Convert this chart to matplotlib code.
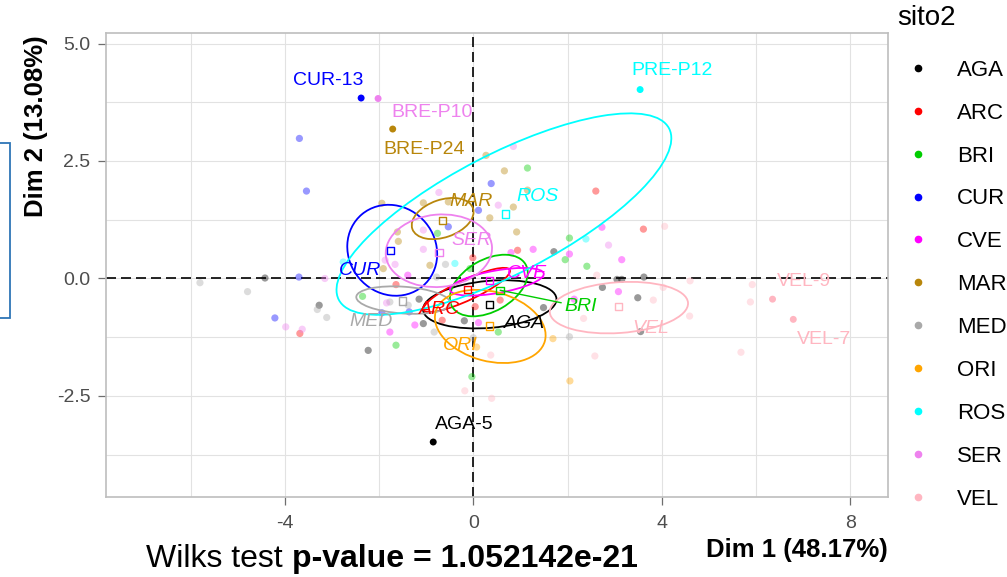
import matplotlib
matplotlib.use("Agg")
import matplotlib.pyplot as plt
from matplotlib.patches import Ellipse, Rectangle
from matplotlib.lines import Line2D
import numpy as np

plt.rcParams["font.family"] = ["Liberation Sans", "DejaVu Sans"]

# ── Groups (sito2) ─────────────────────────────────────────────────────────────
GROUPS = ["AGA", "ARC", "BRI", "CUR", "CVE", "MAR", "MED", "ORI", "ROS", "SER", "VEL"]
COLORS = ["#000000", "#FF0000", "#00CD00", "#0000FF", "#FF00FF", "#B8860B",
          "#A9A9A9", "#FFA500", "#00FFFF", "#EE82EE", "#FFB6C1"]

# ── Individuals (PCA coordinates, Dim 1 / Dim 2) ───────────────────────────────
AGA_X = [1.71, -4.42, -3.27, -2.23, -1.15, -1.06, -0.19, 1.49, 2.74, 3.49, 3.62, 3.55, 3.05, 3.15]
AGA_Y = [0.57, 0.01, -0.57, -1.53, -0.44, -0.96, -0.90, -0.62, -0.19, -0.41, 0.03, -1.13, -0.02, -0.02]
ARC_X = [-0.01, 0.94, 2.60, 3.61, -1.64, -3.68, -0.66, 0.57, 0.04]
ARC_Y = [0.44, 0.60, 1.86, 1.05, -0.13, -1.17, -0.89, -0.46, -0.60]
BRI_X = [1.15, -0.76, 2.04, 1.95, 2.41, -2.35, -1.64, 0.53, -0.03, -0.07]
BRI_Y = [2.35, 0.96, 0.86, 0.40, 0.26, -0.38, -1.42, -1.14, -2.09, 0.21]
CUR_X = [-3.69, -3.54, 0.38, 0.11, -0.53, -3.70, -4.21, -1.94, -1.36]
CUR_Y = [2.98, 1.86, 2.02, 1.45, 1.10, 0.03, -0.84, -0.73, -0.71]
CVE_X = [0.80, 1.27, 2.73, 3.15, 2.04, -1.39, -1.24, 0.11, 2.14, 3.08, -1.77]
CVE_Y = [0.55, 0.62, 1.09, 0.40, 0.52, 0.07, -0.99, -0.94, -0.44, -0.28, -1.14]
MAR_X = [0.27, 0.66, 1.15, -1.06, -0.53, 0.85, 0.35, 0.92, -1.59, -1.61, -1.94, -0.92, -1.91]
MAR_Y = [2.62, 2.29, 1.88, 1.61, 1.63, 1.52, 1.29, 0.99, 0.79, 0.99, 1.60, 0.28, 0.21]
MED_X = [-5.80, -4.79, -3.31, -3.11, -0.59, -0.78, -1.38, -1.77, -0.83, 0.00, 2.04]
MED_Y = [-0.09, -0.28, -0.66, -0.83, 0.30, 0.03, -0.57, -0.50, -1.14, -1.26, -1.24]
ORI_X = [1.69, 2.05, 0.07]
ORI_Y = [-1.28, -2.18, -1.46]
ROS_X = [-0.39, 2.39, -2.76]
ROS_Y = [0.32, 0.84, 0.35]
SER_X = [0.85, -0.73, 0.53, -1.06, -1.06, 2.87, -1.87, -1.66, -3.15, -1.84, -3.98, -3.63]
SER_Y = [2.81, 1.83, 1.56, 1.03, 0.62, 0.71, 0.39, 0.30, 0.00, -0.52, -1.03, -1.08]
VEL_X = [5.92, 5.88, 5.68, 4.60, 4.03, 3.82, 4.59, 4.06, 2.62, 2.34, 2.58, 0.37, 0.39, -0.18]
VEL_Y = [-0.13, -0.50, -1.57, -0.05, -0.19, -0.46, -0.80, 1.11, 0.07, -0.85, -1.65, -1.63, -2.55, -2.39]

# Labelled (extreme) individuals
HL_NAMES = ["CUR-13", "BRE-P10", "BRE-P24", "PRE-P12", "AGA-5", "VEL-9", "VEL-7"]
HL_GROUP = ["CUR", "SER", "MAR", "ROS", "AGA", "VEL", "VEL"]
HL_X = [-2.38, -2.02, -1.71, 3.54, -0.85, 6.35, 6.79]
HL_Y = [3.84, 3.83, 3.18, 4.02, -3.48, -0.44, -0.87]
HL_LABEL_X = [-3.08, -0.87, -1.05, 4.22, -0.20, 7.01, 7.44]
HL_LABEL_Y = [4.22, 3.54, 2.75, 4.42, -3.11, -0.07, -1.29]

# Group means and confidence ellipses (centre, semi-axes, angle in degrees)
MEAN_X = [0.35, -0.12, 0.57, -1.75, 0.35, -0.65, -1.50, 0.35, 0.69, -0.73, 3.08]
MEAN_Y = [-0.55, -0.24, -0.25, 0.59, -0.04, 1.23, -0.48, -1.01, 1.37, 0.55, -0.60]
ELL_X = [0.35, -0.14, 0.33, -1.72, 0.50, -0.65, -1.485, 0.36, 0.65, -0.73, 3.09]
ELL_Y = [-0.55, -0.245, -0.15, 0.60, -0.07, 1.275, -0.46, -1.02, 1.37, 0.59, -0.62]
ELL_A = [1.42, 1.01, 0.90, 1.00, 1.01, 0.68, 1.00, 1.20, 3.95, 1.13, 1.47]
ELL_B = [0.50, 0.22, 0.55, 0.92, 0.24, 0.40, 0.285, 0.74, 1.27, 0.77, 0.54]
ELL_ANGLE = [5, 25, 30, -50, 10, 19, -4, -15, 27.5, 5, 4]
GLABEL_X = [1.08, -0.71, 2.27, -2.41, 1.13, -0.05, -2.16, -0.27, 1.36, -0.03, 3.77]
GLABEL_Y = [-0.96, -0.67, -0.60, 0.18, 0.11, 1.63, -0.92, -1.42, 1.74, 0.81, -1.06]

X_MAJOR = [-4, 0, 4, 8]
X_MINOR = [-6, -2, 2, 6]
Y_MAJOR = [-2.5, 0.0, 2.5, 5.0]
Y_MINOR = [-3.75, -1.25, 1.25, 3.75]
X_TICKLABELS = ["-4", "0", "4", "8"]
Y_TICKLABELS = ["-2.5", "0.0", "2.5", "5.0"]

POINTS = {
    "AGA": (AGA_X, AGA_Y), "ARC": (ARC_X, ARC_Y), "BRI": (BRI_X, BRI_Y),
    "CUR": (CUR_X, CUR_Y), "CVE": (CVE_X, CVE_Y), "MAR": (MAR_X, MAR_Y),
    "MED": (MED_X, MED_Y), "ORI": (ORI_X, ORI_Y), "ROS": (ROS_X, ROS_Y),
    "SER": (SER_X, SER_Y), "VEL": (VEL_X, VEL_Y),
}
COLOR_OF = dict(zip(GROUPS, COLORS))

W, H = 1007, 577
fig = plt.figure(figsize=(W / 100, H / 100), dpi=100)
ax = fig.add_axes([105.7 / W, 1 - 497 / H, (888 - 105.7) / W, (497 - 32.7) / H])
ax.set_xlim(-7.80, 8.80)
ax.set_ylim(-4.65, 5.23)

# grid / frame
ax.set_xticks(X_MAJOR)
ax.set_xticklabels(X_TICKLABELS)
ax.set_xticks(X_MINOR, minor=True)
ax.set_yticks(Y_MAJOR)
ax.set_yticklabels(Y_TICKLABELS)
ax.set_yticks(Y_MINOR, minor=True)
ax.grid(which="both", color="#E2E2E2", lw=0.8, zorder=0)
ax.set_axisbelow(True)
ax.tick_params(which="major", length=6, width=0.9, color="#6E6E6E",
               labelsize=14, labelcolor="#4D4D4D", pad=5)
ax.tick_params(axis="x", which="major", pad=7)
ax.tick_params(which="minor", length=0)
for sp in ax.spines.values():
    sp.set_color("#BEBEBE")
    sp.set_linewidth(1.2)

ax.axhline(0, color="black", lw=1.2, dashes=(6, 3), zorder=1.5)
ax.axvline(0, color="black", lw=1.2, dashes=(6, 3), zorder=1.5)

# faded individuals
for g in GROUPS:
    xs, ys = POINTS[g]
    ax.scatter(xs, ys, s=27, color=COLOR_OF[g], alpha=0.4, edgecolors="none", zorder=2)

# labelled individuals
for name, g, x, y, lx, ly in zip(HL_NAMES, HL_GROUP, HL_X, HL_Y, HL_LABEL_X, HL_LABEL_Y):
    ax.scatter([x], [y], s=25, color=COLOR_OF[g], edgecolors="none", zorder=3)
    ax.text(lx, ly, name, color=COLOR_OF[g], fontsize=14, ha="center", va="center", zorder=5)

# ellipses, means and group labels
for i, g in enumerate(GROUPS):
    c = COLORS[i]
    ax.add_patch(Ellipse((ELL_X[i], ELL_Y[i]), 2 * ELL_A[i], 2 * ELL_B[i], angle=ELL_ANGLE[i],
                         fill=False, edgecolor=c, lw=1.3, zorder=3))
    ax.scatter([MEAN_X[i]], [MEAN_Y[i]], marker="s", s=28, facecolors="none",
               edgecolors=c, linewidths=1.0, zorder=4)
    far = np.hypot(GLABEL_X[i] - MEAN_X[i], GLABEL_Y[i] - MEAN_Y[i]) > 1.2
    if far:
        ax.annotate(g, xy=(MEAN_X[i], MEAN_Y[i]), xytext=(GLABEL_X[i], GLABEL_Y[i]),
                    color=c, fontsize=14, fontstyle="italic", ha="center", va="center",
                    arrowprops=dict(arrowstyle="-", color=c, lw=1.0, shrinkA=0, shrinkB=0),
                    zorder=5)
    else:
        ax.text(GLABEL_X[i], GLABEL_Y[i], g, color=c, fontsize=14, fontstyle="italic",
                ha="center", va="center", zorder=5)

# legend (drawn by hand to match the ggplot layout)
fig.text(897 / W, 1 - 18 / H, "sito2", fontsize=20, va="center", ha="left")
for i, (g, c) in enumerate(zip(GROUPS, COLORS)):
    yy = 1 - (67.8 + i * 42.9) / H
    fig.add_artist(Line2D([918 / W], [yy], marker="o", ms=4.5, color=c, ls="none",
                          transform=fig.transFigure))
    fig.text(957 / W, yy, g, fontsize=16, va="center_baseline", ha="left")

# axis titles and caption
fig.text(36 / W, 1 - 35 / H, "Dim 2 (13.08%)", rotation=90, ha="center", va="top",
         fontsize=18.5, fontweight="bold")
fig.text(888 / W, 1 - 557 / H, "Dim 1 (48.17%)", ha="right", va="baseline",
         fontsize=18.5, fontweight="bold")
t1 = fig.text(146 / W, 1 - 567 / H, "Wilks test ", fontsize=23, va="baseline", ha="left")
ax.annotate("p-value = 1.052142e-21", xy=(1, 0), xycoords=t1, va="bottom", ha="left",
            fontsize=23, fontweight="bold", annotation_clip=False)

# stray selection frame at the left edge of the screenshot
fig.add_artist(Rectangle((-5 / W, 1 - 318 / H), 14.5 / W, 175 / H, transform=fig.transFigure,
                         fill=False, edgecolor="#2E75B6", lw=1.3))

fig.savefig("out.png", dpi=100)
